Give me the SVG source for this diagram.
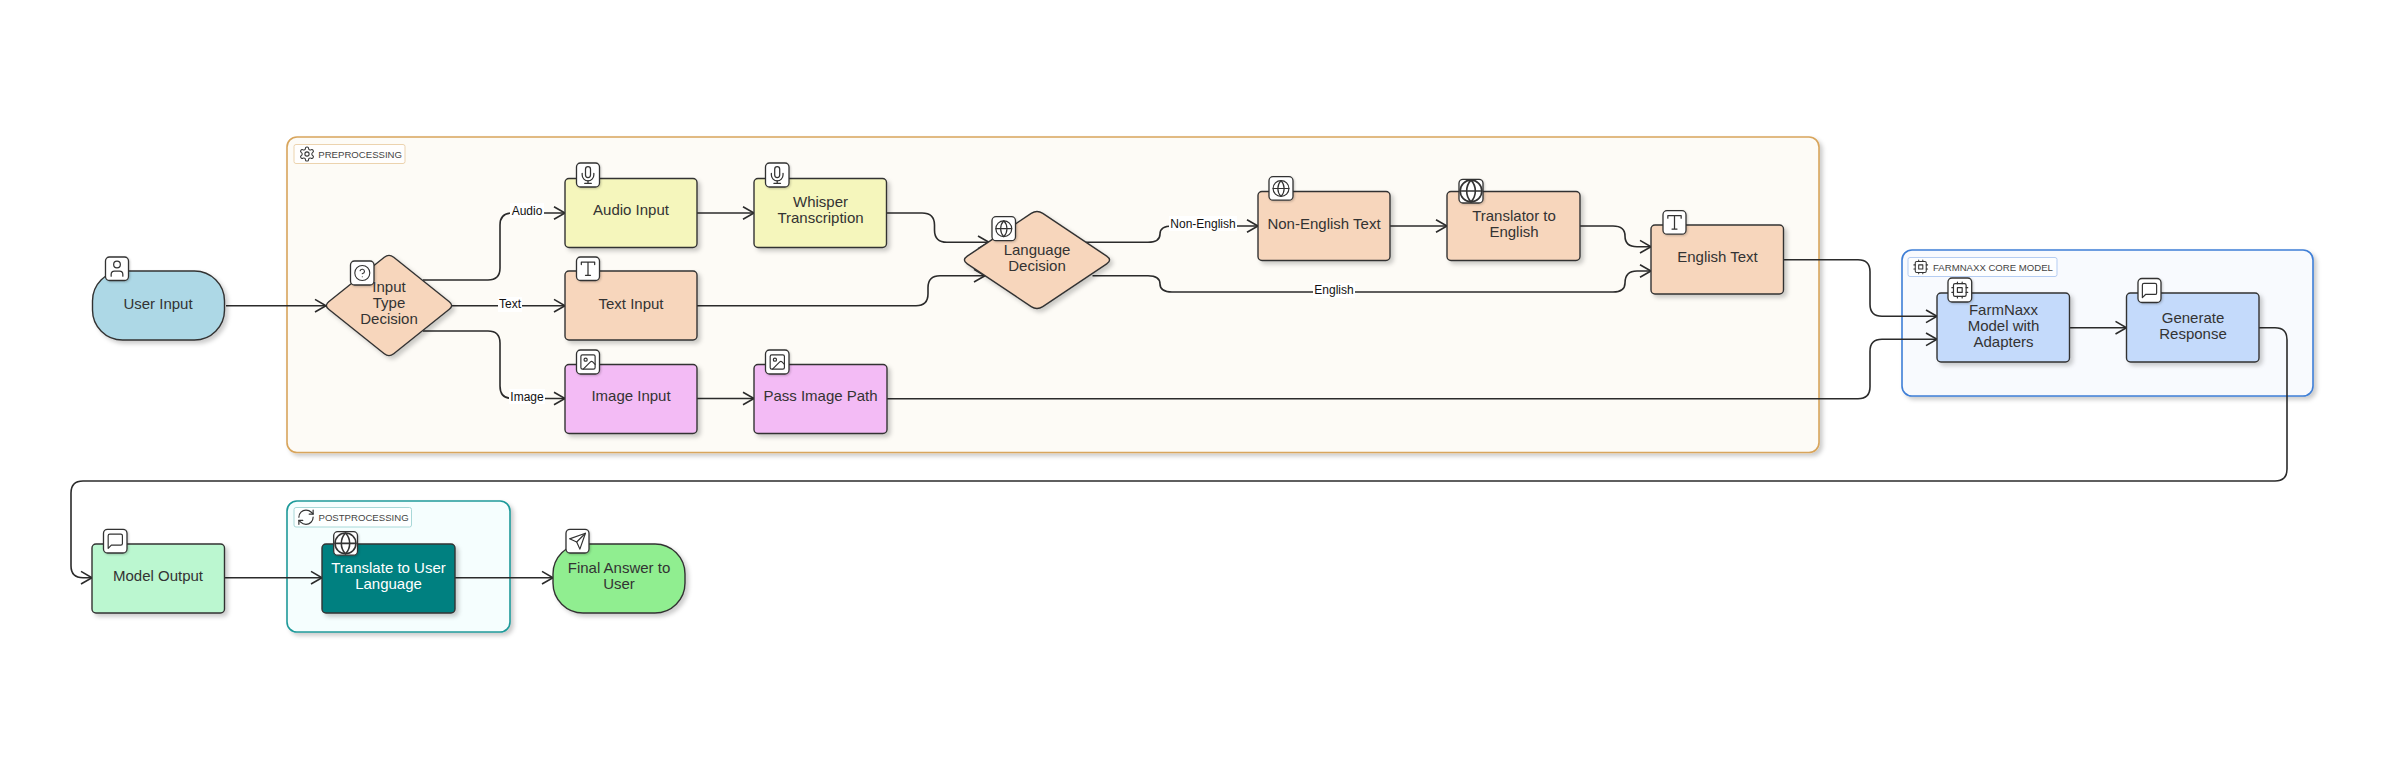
<svg xmlns="http://www.w3.org/2000/svg" width="2387" height="773" viewBox="0 0 2387 773">
<style>
text{font-family:"Liberation Sans",Arial,sans-serif;fill:#333;text-anchor:middle}
.n{font-size:15px}
.e{font-size:12px;fill:#111}
.h{font-size:9.6px;fill:#444;text-anchor:start}
.node{stroke:#333;stroke-width:1.4;filter:url(#sh)}
.sg{stroke-width:1.6;filter:url(#sh)}
.hb{stroke-width:1;fill:#fff;fill-opacity:.75}
.b{fill:#fff;stroke:#333;stroke-width:1.3;filter:url(#sh2)}
.c path{fill:none;stroke:#2b2b2b;stroke-width:1.6;marker-end:url(#ar)}
.lb{fill:#fff}
.i{fill:none;stroke:#333;stroke-width:1.5;stroke-linecap:round;stroke-linejoin:round}
</style>
<defs>
<filter id="sh" x="-10%" y="-10%" width="120%" height="125%"><feDropShadow dx="3" dy="3" stdDeviation="2" flood-color="#000" flood-opacity=".2"/></filter>
<filter id="sh2" x="-20%" y="-20%" width="140%" height="140%"><feDropShadow dx="1" dy="1" stdDeviation="1" flood-color="#000" flood-opacity=".2"/></filter>
<marker id="ar" markerUnits="userSpaceOnUse" markerWidth="16" markerHeight="16" refX="13" refY="8" orient="auto"><path d="M2,1.7L13,8L2,14.3" fill="none" stroke="#2b2b2b" stroke-width="1.6"/></marker>
<symbol id="i-user" viewBox="0 0 24 24"><g class="i"><path d="M19 21v-2a4 4 0 0 0-4-4H9a4 4 0 0 0-4 4v2"/><circle cx="12" cy="7" r="4"/></g></symbol>
<symbol id="i-help" viewBox="0 0 24 24"><g class="i"><circle cx="12" cy="12" r="10"/><path d="M9.09 9a3 3 0 0 1 5.83 1c0 2-3 3-3 3"/><path d="M12 17h.01"/></g></symbol>
<symbol id="i-mic" viewBox="0 0 24 24"><g class="i"><path d="M12 2a3 3 0 0 0-3 3v7a3 3 0 0 0 6 0V5a3 3 0 0 0-3-3Z"/><path d="M19 10v2a7 7 0 0 1-14 0v-2"/><path d="M12 19v3M8 22h8"/></g></symbol>
<symbol id="i-type" viewBox="0 0 24 24"><g class="i"><path d="M4 7V4h16v3M9 20h6M12 4v16"/></g></symbol>
<symbol id="i-image" viewBox="0 0 24 24"><g class="i"><rect x="3" y="3" width="18" height="18" rx="2"/><circle cx="9" cy="9" r="2"/><path d="m21 15-3.086-3.086a2 2 0 0 0-2.828 0L6 21"/></g></symbol>
<symbol id="i-globe" viewBox="0 0 24 24"><g class="i"><circle cx="12" cy="12" r="10"/><path d="M12 2a14.5 14.5 0 0 0 0 20 14.5 14.5 0 0 0 0-20"/><path d="M2 12h20"/></g></symbol>
<symbol id="i-msg" viewBox="0 0 24 24"><g class="i"><path d="M21 15a2 2 0 0 1-2 2H7l-4 4V5a2 2 0 0 1 2-2h14a2 2 0 0 1 2 2z"/></g></symbol>
<symbol id="i-cpu" viewBox="0 0 24 24"><g class="i"><rect x="4" y="4" width="16" height="16" rx="2"/><rect x="9" y="9" width="6" height="6"/><path d="M15 2v2M15 20v2M2 15h2M2 9h2M20 15h2M20 9h2M9 2v2M9 20v2"/></g></symbol>
<symbol id="i-send" viewBox="0 0 24 24"><g class="i"><path d="m22 2-7 20-4-9-9-4Z"/><path d="M22 2 11 13"/></g></symbol>
<symbol id="i-ref" viewBox="0 0 24 24"><g class="i"><path d="M3 12a9 9 0 0 1 9-9 9.75 9.75 0 0 1 6.74 2.74L21 8"/><path d="M21 3v5h-5"/><path d="M21 12a9 9 0 0 1-9 9 9.75 9.75 0 0 1-6.74-2.74L3 16"/><path d="M8 16H3v5"/></g></symbol>
<symbol id="i-gear" viewBox="0 0 24 24"><g class="i"><path d="M12.22 2h-.44a2 2 0 0 0-2 2v.18a2 2 0 0 1-1 1.73l-.43.25a2 2 0 0 1-2 0l-.15-.08a2 2 0 0 0-2.73.73l-.22.38a2 2 0 0 0 .73 2.73l.15.1a2 2 0 0 1 1 1.72v.51a2 2 0 0 1-1 1.74l-.15.09a2 2 0 0 0-.73 2.73l.22.38a2 2 0 0 0 2.73.73l.15-.08a2 2 0 0 1 2 0l.43.25a2 2 0 0 1 1 1.73V20a2 2 0 0 0 2 2h.44a2 2 0 0 0 2-2v-.18a2 2 0 0 1 1-1.73l.43-.25a2 2 0 0 1 2 0l.15.08a2 2 0 0 0 2.73-.73l.22-.39a2 2 0 0 0-.73-2.73l-.15-.08a2 2 0 0 1-1-1.74v-.5a2 2 0 0 1 1-1.74l.15-.09a2 2 0 0 0 .73-2.73l-.22-.38a2 2 0 0 0-2.73-.73l-.15.08a2 2 0 0 1-2 0l-.43-.25a2 2 0 0 1-1-1.73V4a2 2 0 0 0-2-2z"/><circle cx="12" cy="12" r="3"/></g></symbol>
</defs>
<rect width="2387" height="773" fill="#fff"/>

<g id="preprocessing">
<rect class="sg" x="287" y="137" width="1532" height="315.5" rx="10" fill="#fdfbf6" stroke="#d8a55c"/>
<rect class="hb" x="294" y="144.5" width="111" height="19" rx="2" stroke="#ecd3ae"/>
<use href="#i-gear" x="298.5" y="145.5" width="17" height="17"/>
<text class="h" x="318.3" y="157.8">PREPROCESSING</text>
</g>
<g id="core-model">
<rect class="sg" x="1902" y="250" width="411" height="146" rx="10" fill="#f8fafe" stroke="#3f7fd6"/>
<rect class="hb" x="1908" y="257.5" width="149" height="19" rx="2" stroke="#b5cdf2"/>
<use href="#i-cpu" x="1912.5" y="258.7" width="16.5" height="16.5"/>
<text class="h" x="1933" y="271">FARMNAXX CORE MODEL</text>
</g>
<g id="postprocessing">
<rect class="sg" x="287" y="501" width="223" height="131" rx="10" fill="#f5fefe" stroke="#1f9a9a"/>
<rect class="hb" x="294" y="507.5" width="117.5" height="19.5" rx="2" stroke="#a8d8d8"/>
<use href="#i-ref" x="296.5" y="507.7" width="19" height="19"/>
<text class="h" x="318.5" y="521">POSTPROCESSING</text>
</g>

<g id="connectors" class="c">
<path d="M226,305.7H326"/>
<path d="M423,280H488Q500,280 500,268V225Q500,213 512,213H565"/>
<path d="M451.5,305.7H565"/>
<path d="M423,331H488Q500,331 500,343V386Q500,398.5 512,398.5H565"/>
<path d="M697,213H754"/>
<path d="M697,398.5H754"/>
<path d="M886.7,213H922Q934.5,213 934.5,225V230Q934.5,242.3 947,242.3H989"/>
<path d="M697,305.7H916Q928,305.7 928,293.7V287.7Q928,275.7 940,275.7H985"/>
<path d="M1086,242.3H1148Q1160,242.3 1160,234Q1160,226 1172,226H1258"/>
<path d="M1092.5,275.7H1148Q1160,275.7 1160,284Q1160,292 1172,292H1613Q1625,292 1625,283Q1625,271 1637,271H1651"/>
<path d="M1390,226H1447"/>
<path d="M1580,226H1613Q1625,226 1625,236Q1625,246.7 1637,246.7H1651"/>
<path d="M1783.5,259.7H1858Q1870,259.7 1870,271.7V304.3Q1870,316.3 1882,316.3H1937"/>
<path d="M887,398.7H1858Q1870,398.7 1870,386.7V351.3Q1870,339.3 1882,339.3H1937"/>
<path d="M2069.5,327.7H2126.5"/>
<path d="M2259,327.7H2275Q2287,327.7 2287,339.7V469Q2287,481 2275,481H83Q71,481 71,493V565.7Q71,577.7 83,577.7H92"/>
<path d="M224.5,577.7H322"/>
<path d="M455,577.7H553"/>
</g>

<g id="edge-labels">
<rect class="lb" x="510" y="203" width="34" height="15"/><text class="e" x="527" y="214.5">Audio</text>
<rect class="lb" x="498" y="297" width="24" height="15"/><text class="e" x="510" y="307.5">Text</text>
<rect class="lb" x="509" y="389" width="36" height="15"/><text class="e" x="527" y="400.5">Image</text>
<rect class="lb" x="1169" y="216" width="68" height="15"/><text class="e" x="1203" y="228">Non-English</text>
<rect class="lb" x="1313" y="283" width="42" height="15"/><text class="e" x="1334" y="294">English</text>
</g>

<g id="user-input"><rect class="node" x="92.5" y="271" width="132" height="69" rx="30" fill="#add8e6"/><rect class="b" x="105.5" y="257" width="23" height="23.5" rx="4"/><use href="#i-user" x="107" y="258.7" width="20" height="20"/><text class="n" x="158" y="308.5">User Input</text></g>
<g id="input-type-decision"><path class="node" d="M384.3,257.3Q389,253.5 393.7,257.3L449.3,301.7Q454,305.5 449.3,309.3L393.7,353.7Q389,357.5 384.3,353.7L328.7,309.3Q324,305.5 328.7,301.7Z" fill="#f7d6bc"/><rect class="b" x="350.5" y="261" width="23.5" height="24" rx="4"/><use href="#i-help" x="353.3" y="264" width="18" height="18"/><text class="n" x="389" y="292">Input</text><text class="n" x="389" y="308">Type</text><text class="n" x="389" y="324">Decision</text></g>
<g id="audio-input"><rect class="node" x="565" y="178.5" width="132" height="69" rx="4" fill="#f5f6bc"/><rect class="b" x="576.5" y="163" width="23" height="24" rx="4"/><use href="#i-mic" x="578" y="165" width="20" height="20"/><text class="n" x="631" y="215">Audio Input</text></g>
<g id="text-input"><rect class="node" x="565" y="271" width="132" height="69" rx="4" fill="#f7d6bc"/><rect class="b" x="576.5" y="257" width="23" height="23.5" rx="4"/><use href="#i-type" x="578" y="258.7" width="20" height="20"/><text class="n" x="631" y="308.5">Text Input</text></g>
<g id="image-input"><rect class="node" x="565" y="364.5" width="132" height="69" rx="4" fill="#f3bbf5"/><rect class="b" x="576.5" y="350" width="23" height="24" rx="4"/><use href="#i-image" x="578.5" y="352.5" width="19" height="19"/><text class="n" x="631" y="401">Image Input</text></g>
<g id="whisper"><rect class="node" x="754" y="178.5" width="132.5" height="69" rx="4" fill="#f5f6bc"/><rect class="b" x="765.5" y="163" width="23.5" height="24" rx="4"/><use href="#i-mic" x="767.2" y="165" width="20" height="20"/><text class="n" x="820.5" y="207">Whisper</text><text class="n" x="820.5" y="223">Transcription</text></g>
<g id="pass-image"><rect class="node" x="754" y="364.5" width="133" height="69" rx="4" fill="#f3bbf5"/><rect class="b" x="765.5" y="350" width="23.5" height="24" rx="4"/><use href="#i-image" x="767.8" y="352.5" width="19" height="19"/><text class="n" x="820.5" y="401">Pass Image Path</text></g>
<g id="language-decision"><path class="node" d="M1031.2,213.4Q1037,209.5 1042.8,213.4L1106.7,256.1Q1112.5,260 1106.7,263.9L1042.8,306.6Q1037,310.5 1031.2,306.6L967.3,263.9Q961.5,260 967.3,256.1Z" fill="#f7d6bc"/><rect class="b" x="992" y="216.7" width="23.5" height="24" rx="4"/><use href="#i-globe" x="994.3" y="219.2" width="19" height="19"/><text class="n" x="1037" y="254.5">Language</text><text class="n" x="1037" y="270.5">Decision</text></g>
<g id="non-english"><rect class="node" x="1258" y="191.5" width="132" height="69" rx="4" fill="#f7d6bc"/><rect class="b" x="1269" y="176.7" width="24" height="23.5" rx="4"/><use href="#i-globe" x="1271.5" y="179" width="19" height="19"/><text class="n" x="1324" y="228.5">Non-English Text</text></g>
<g id="translator"><rect class="node" x="1447" y="191.5" width="133" height="69" rx="4" fill="#f7d6bc"/><rect class="b" x="1459" y="179.3" width="24" height="23.7" rx="4"/><use href="#i-globe" x="1458" y="178" width="26" height="26"/><text class="n" x="1514" y="220.5">Translator to</text><text class="n" x="1514" y="236.5">English</text></g>
<g id="english-text"><rect class="node" x="1651" y="225" width="132.5" height="69" rx="4" fill="#f7d6bc"/><rect class="b" x="1663" y="210.7" width="23" height="23.5" rx="4"/><use href="#i-type" x="1664.5" y="212.4" width="20" height="20"/><text class="n" x="1717.5" y="262">English Text</text></g>
<g id="farmnaxx"><rect class="node" x="1937" y="293" width="132.5" height="69" rx="4" fill="#c4dafb"/><rect class="b" x="1948" y="278" width="23.7" height="24" rx="4"/><use href="#i-cpu" x="1950.3" y="280.5" width="19" height="19"/><text class="n" x="2003.5" y="314.5">FarmNaxx</text><text class="n" x="2003.5" y="330.5">Model with</text><text class="n" x="2003.5" y="346.5">Adapters</text></g>
<g id="generate"><rect class="node" x="2126.5" y="293" width="132.5" height="69" rx="4" fill="#c4dafb"/><rect class="b" x="2138" y="278.5" width="23" height="24" rx="4"/><use href="#i-msg" x="2140" y="281" width="19" height="19"/><text class="n" x="2193" y="322.5">Generate</text><text class="n" x="2193" y="338.5">Response</text></g>
<g id="model-output"><rect class="node" x="92" y="544" width="132.5" height="69" rx="4" fill="#bbf7d0"/><rect class="b" x="103.5" y="529.3" width="23.5" height="23.7" rx="4"/><use href="#i-msg" x="105.8" y="531.7" width="19" height="19"/><text class="n" x="158" y="581">Model Output</text></g>
<g id="translate"><rect class="node" x="322" y="544" width="133" height="69" rx="4" fill="#008080"/><rect class="b" x="333.7" y="531.7" width="23.8" height="23.5" rx="4"/><use href="#i-globe" x="333" y="530.9" width="25" height="25"/><text class="n" style="fill:#fff" x="388.5" y="572.5">Translate to User</text><text class="n" style="fill:#fff" x="388.5" y="589">Language</text></g>
<g id="final-answer"><rect class="node" x="553" y="544" width="132" height="69" rx="30" fill="#90ee90"/><rect class="b" x="566" y="529.3" width="23" height="23.7" rx="4"/><use href="#i-send" x="568" y="531.7" width="19" height="19"/><text class="n" x="619" y="572.5">Final Answer to</text><text class="n" x="619" y="589">User</text></g>
</svg>
